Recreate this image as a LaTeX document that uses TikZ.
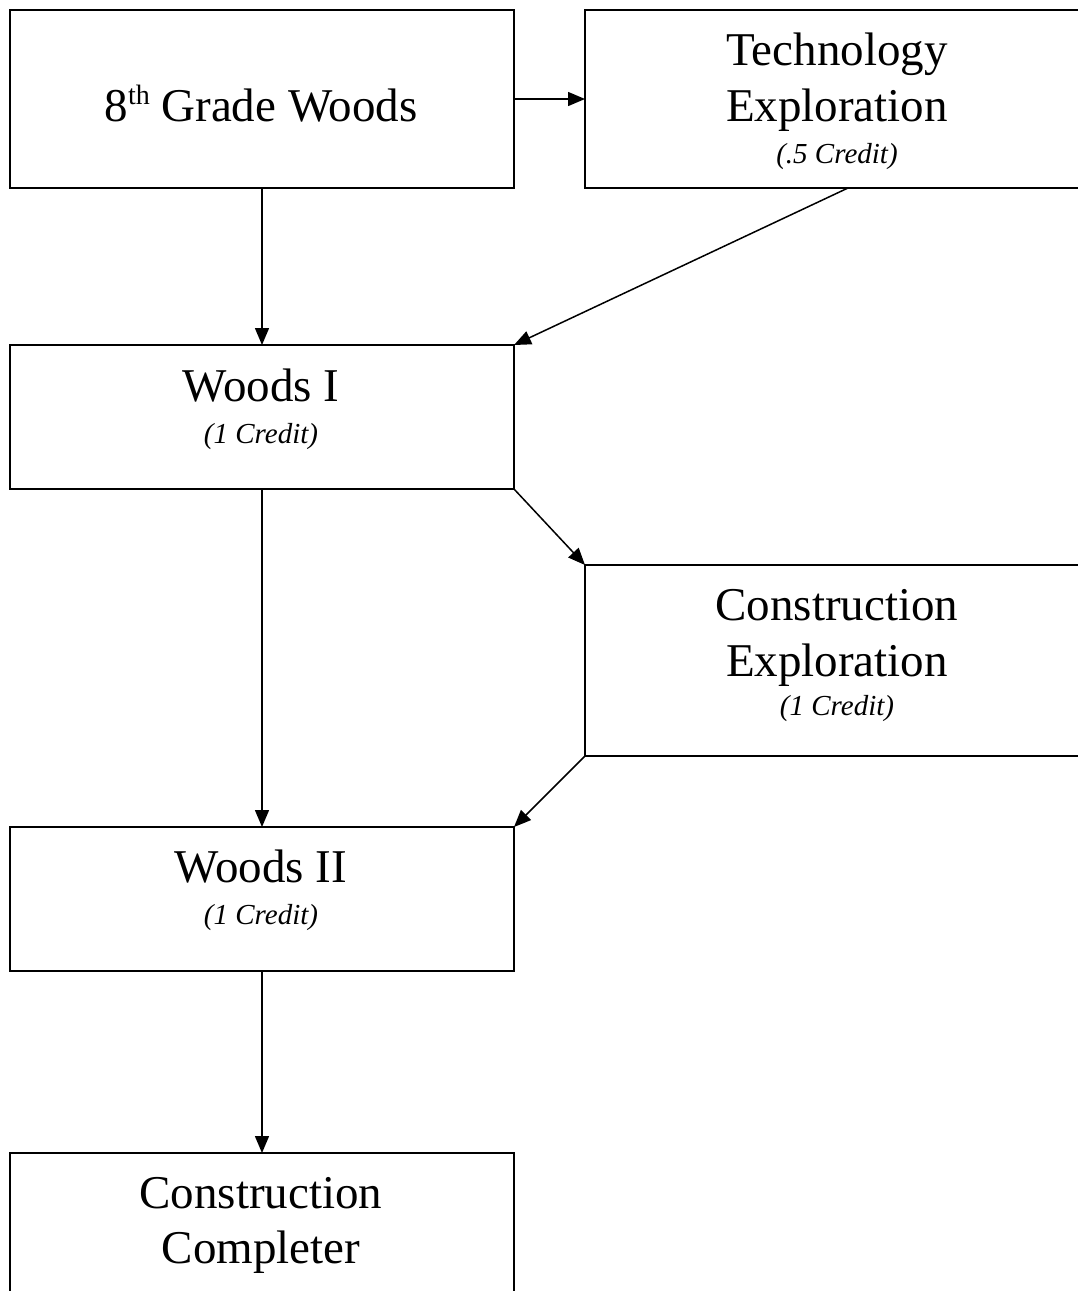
\documentclass[tikz,border=0pt]{standalone}
\usepackage{fontspec}
\setmainfont{Liberation Serif}
\usetikzlibrary{arrows.meta,calc}
\begin{document}
\begin{tikzpicture}[x=1pt,y=-1pt,
  box/.style={draw, line width=1.6pt, rectangle, inner sep=0pt, outer sep=0pt, anchor=north west, minimum width=504pt},
  big/.style={anchor=base, inner sep=0pt, font=\fontsize{47}{56}\selectfont},
  cred/.style={anchor=base, inner sep=0pt, font=\fontsize{29}{34}\selectfont\itshape},
  arr/.style={line width=1.5pt, -{Triangle[length=17pt,width=14pt]}}]
\useasboundingbox (0,0) rectangle (1078,1291);
\clip (0,0) rectangle (1078,1291);
% boxes
\node[box, minimum height=178pt] (g8) at (10,10) {};
\node[box, minimum height=178pt] (tech) at (585,10) {};
\node[box, minimum height=144pt] (w1) at (10,345) {};
\node[box, minimum height=191pt] (cex) at (585,565) {};
\node[box, minimum height=144pt] (w2) at (10,827) {};
\node[box, minimum height=200pt] (comp) at (10,1153) {};
% texts
\node[big] (g8t) at (261,121) {8\raisebox{17pt}{\fontsize{28}{28}\selectfont th} Grade Woods};
\node[big] (techa) at (837,65) {Technology};
\node[big] (techb) at (837,121) {Exploration};
\node[cred] (techc) at (837,163) {(.5 Credit)};
\node[big] (w1a) at (261,401.7) {Woods I};
\node[cred] (w1b) at (261,443) {(1 Credit)};
\node[big] (cexa) at (837,620) {Construction};
\node[big] (cexb) at (837,676) {Exploration};
\node[cred] (cexc) at (837,715) {(1 Credit)};
\node[big] (w2a) at (261,882.7) {Woods II};
\node[cred] (w2b) at (261,924) {(1 Credit)};
\node[big] (compa) at (261,1208) {Construction};
\node[big] (compb) at (261,1263) {Completer};
% connectors
\coordinate (techout) at ($(tech.south west)+(263,0)$);
\draw[arr] (g8.east) -- (tech.west);
\draw[arr] (g8.south) -- (w1.north);
\draw[arr] (techout) -- (w1.north east);
\draw[arr] (w1.south east) -- (cex.north west);
\draw[arr] (w1.south) -- (w2.north);
\draw[arr] (cex.south west) -- (w2.north east);
\draw[arr] (w2.south) -- (comp.north);
\end{tikzpicture}
\end{document}
